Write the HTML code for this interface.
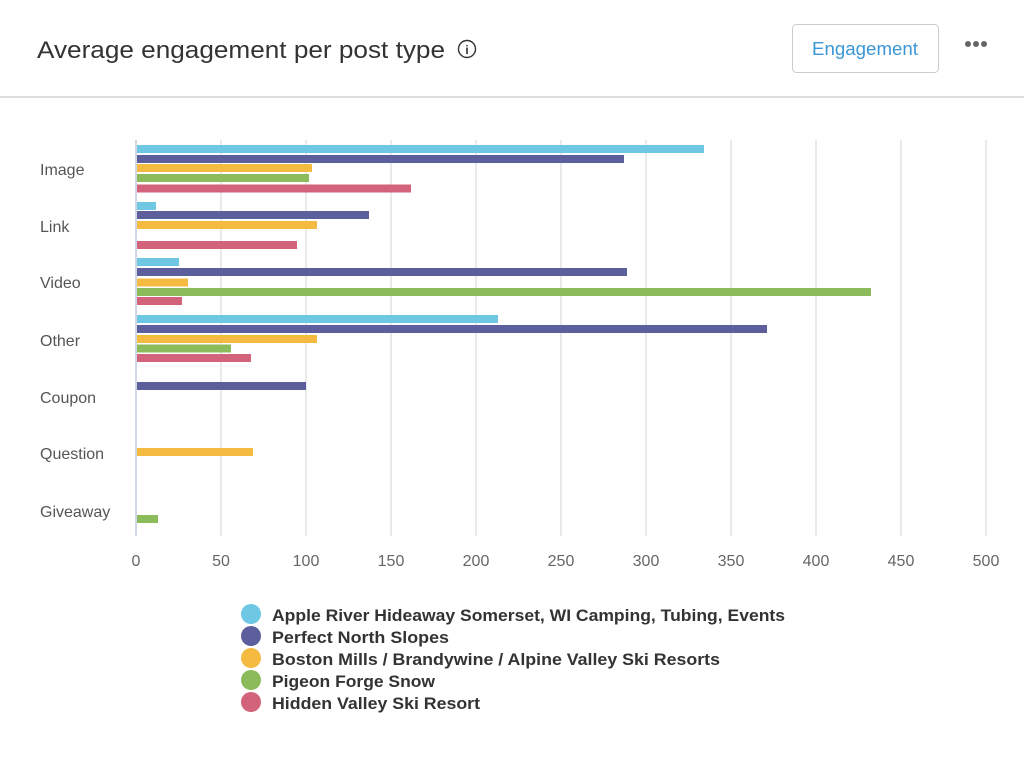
<!DOCTYPE html>
<html><head><meta charset="utf-8"><style>
html,body{margin:0;padding:0;background:#fff;width:1024px;height:775px;overflow:hidden}
svg{display:block}
text{font-family:"Liberation Sans",sans-serif}
</style></head><body>
<svg width="1024" height="775" viewBox="0 0 1024 775">
<rect width="1024" height="775" fill="#fff"/>
<text x="37" y="58" font-size="24" fill="#333" textLength="408" lengthAdjust="spacingAndGlyphs">Average engagement per post type</text>
<circle cx="467" cy="49" r="8.5" fill="none" stroke="#333" stroke-width="1.4"/>
<text x="467" y="54" font-size="12" fill="#333" text-anchor="middle" font-weight="bold">i</text>
<rect x="792.5" y="24.5" width="146" height="48" rx="4" fill="#fff" stroke="#ccc"/>
<text x="865" y="55" font-size="18" fill="#3a97d6" text-anchor="middle" textLength="106" lengthAdjust="spacingAndGlyphs">Engagement</text>
<circle cx="968" cy="44" r="3" fill="#666"/><circle cx="976" cy="44" r="3" fill="#666"/><circle cx="984" cy="44" r="3" fill="#666"/>
<rect x="0" y="96" width="1024" height="2" fill="#ddd"/>
<g stroke="#e3e3e3" stroke-width="1.5">
<line x1="221" y1="140" x2="221" y2="536"/><line x1="306" y1="140" x2="306" y2="536"/><line x1="391" y1="140" x2="391" y2="536"/><line x1="476" y1="140" x2="476" y2="536"/><line x1="561" y1="140" x2="561" y2="536"/><line x1="646" y1="140" x2="646" y2="536"/><line x1="731" y1="140" x2="731" y2="536"/><line x1="816" y1="140" x2="816" y2="536"/><line x1="901" y1="140" x2="901" y2="536"/><line x1="986" y1="140" x2="986" y2="536"/>
</g>
<line x1="136" y1="140" x2="136" y2="536" stroke="#cfd6e4" stroke-width="2"/>
<g font-size="16" fill="#555">
<text x="40" y="175">Image</text><text x="40" y="232">Link</text><text x="40" y="288">Video</text><text x="40" y="346">Other</text><text x="40" y="403">Coupon</text><text x="40" y="459">Question</text><text x="40" y="517">Giveaway</text>
</g>
<g font-size="16" fill="#666" text-anchor="middle">
<text x="136" y="566">0</text><text x="221" y="566">50</text><text x="306" y="566">100</text><text x="391" y="566">150</text><text x="476" y="566">200</text><text x="561" y="566">250</text><text x="646" y="566">300</text><text x="731" y="566">350</text><text x="816" y="566">400</text><text x="901" y="566">450</text><text x="986" y="566">500</text>
</g>
<g>
<!-- Image -->
<rect x="137" y="145" width="567" height="8" fill="#6fc8e3"/>
<rect x="137" y="155" width="487" height="8" fill="#5c5f9c"/>
<rect x="137" y="164" width="175" height="8" fill="#f5bb41"/>
<rect x="137" y="174" width="172" height="8" fill="#8bbb5b"/>
<rect x="137" y="184.5" width="274" height="8" fill="#d2637a"/>
<!-- Link -->
<rect x="137" y="202" width="19" height="8" fill="#6fc8e3"/>
<rect x="137" y="211" width="232" height="8" fill="#5c5f9c"/>
<rect x="137" y="221" width="180" height="8" fill="#f5bb41"/>
<rect x="137" y="241" width="160" height="8" fill="#d2637a"/>
<!-- Video -->
<rect x="137" y="258" width="42" height="8" fill="#6fc8e3"/>
<rect x="137" y="268" width="490" height="8" fill="#5c5f9c"/>
<rect x="137" y="278.5" width="51" height="8" fill="#f5bb41"/>
<rect x="137" y="288" width="734" height="8" fill="#8bbb5b"/>
<rect x="137" y="297" width="45" height="8" fill="#d2637a"/>
<!-- Other -->
<rect x="137" y="315" width="361" height="8" fill="#6fc8e3"/>
<rect x="137" y="325" width="630" height="8" fill="#5c5f9c"/>
<rect x="137" y="335" width="180" height="8" fill="#f5bb41"/>
<rect x="137" y="344.5" width="94" height="8" fill="#8bbb5b"/>
<rect x="137" y="354" width="114" height="8" fill="#d2637a"/>
<!-- Coupon -->
<rect x="137" y="382" width="169" height="8" fill="#5c5f9c"/>
<!-- Question -->
<rect x="137" y="448" width="116" height="8" fill="#f5bb41"/>
<!-- Giveaway -->
<rect x="137" y="515" width="21" height="8" fill="#8bbb5b"/>
</g>
<g font-size="17" font-weight="bold" fill="#333">
<circle cx="251" cy="614" r="10" fill="#6fc8e3"/><text x="272" y="621" textLength="513" lengthAdjust="spacingAndGlyphs">Apple River Hideaway Somerset, WI Camping, Tubing, Events</text>
<circle cx="251" cy="636" r="10" fill="#5c5f9c"/><text x="272" y="643" textLength="177" lengthAdjust="spacingAndGlyphs">Perfect North Slopes</text>
<circle cx="251" cy="658" r="10" fill="#f5bb41"/><text x="272" y="665" textLength="448" lengthAdjust="spacingAndGlyphs">Boston Mills / Brandywine / Alpine Valley Ski Resorts</text>
<circle cx="251" cy="680" r="10" fill="#8bbb5b"/><text x="272" y="687" textLength="163" lengthAdjust="spacingAndGlyphs">Pigeon Forge Snow</text>
<circle cx="251" cy="702" r="10" fill="#d2637a"/><text x="272" y="709" textLength="208" lengthAdjust="spacingAndGlyphs">Hidden Valley Ski Resort</text>
</g>
</svg>
</body></html>
